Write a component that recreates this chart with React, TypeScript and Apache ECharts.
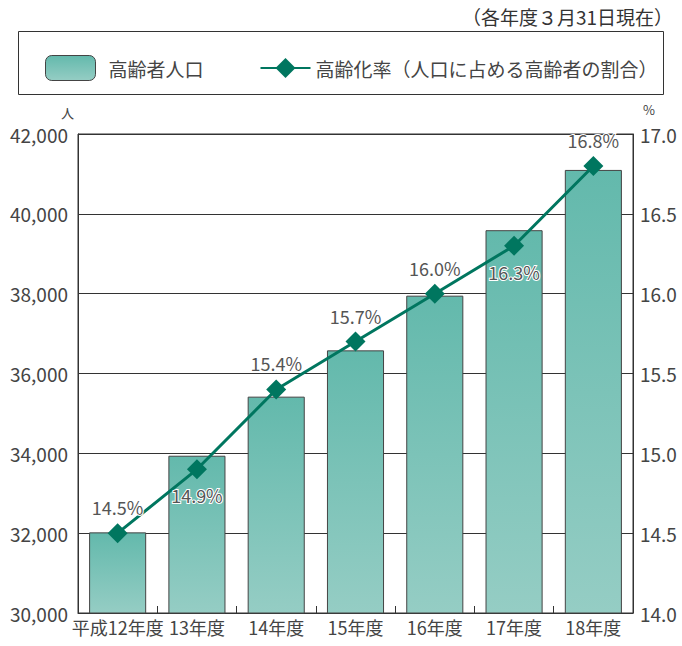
import React, { useEffect, useRef } from "react";
import * as echarts from "echarts";

const categories = ["平成12年度", "13年度", "14年度", "15年度", "16年度", "17年度", "18年度"];
const population = [32020, 33940, 35420, 36580, 37950, 39590, 41100];
const agingRate = [14.5, 14.9, 15.4, 15.7, 16.0, 16.3, 16.8];
const labelBelow = [false, true, false, false, false, true, false];
const leftTicks = { min: 30000, max: 42000, interval: 2000 };
const rightTicks = { min: 14, max: 17, interval: 0.5 };

const FONT = "'Noto Sans CJK JP', 'Noto Sans', sans-serif";

export default function App() {
  const ref = useRef<HTMLDivElement>(null);
  useEffect(() => {
    if (!ref.current) return;
    const chart = echarts.init(ref.current, undefined, { renderer: "svg" });
    const barColor = new echarts.graphic.LinearGradient(0, 0, 0, 1, [
      { offset: 0, color: "#63b9ac" },
      { offset: 1, color: "#95cdc4" },
    ]);
    chart.setOption({
      animation: false,
      textStyle: { fontFamily: FONT },
      title: {
        text: "（各年度３月31日現在）",
        right: 4,
        top: 2,
        textStyle: { fontSize: 19, fontWeight: "normal", color: "#333", fontFamily: FONT },
      },
      graphic: [
        {
          type: "rect",
          shape: { x: 18.5, y: 31.5, width: 645, height: 63 },
          style: { fill: "none", stroke: "#333", lineWidth: 1 },
        },
      ],
      legend: {
        left: 40,
        top: 50,
        itemWidth: 50,
        itemHeight: 25,
        itemGap: 56,
        textStyle: { fontSize: 19, color: "#444", fontFamily: FONT },
        data: [
          {
            name: "高齢者人口",
            itemStyle: { borderColor: "#444", borderWidth: 1 },
            textStyle: { padding: [0, 0, 0, 8] },
          },
          { name: "高齢化率（人口に占める高齢者の割合）" },
        ],
      },
      grid: { left: 78, right: 49, top: 134, bottom: 33, show: true, borderColor: "#333", borderWidth: 1 },
      xAxis: {
        type: "category",
        data: categories,
        axisLine: { lineStyle: { color: "#333" } },
        axisTick: { show: true, inside: true, length: 7, lineStyle: { color: "#333" } },
        axisLabel: { fontSize: 18, color: "#444", margin: 5, interval: 0 },
      },
      yAxis: [
        {
          type: "value",
          min: leftTicks.min,
          max: leftTicks.max,
          interval: leftTicks.interval,
          name: "人",
          nameGap: 15,
          nameTextStyle: { fontSize: 13, lineHeight: 13, color: "#444", align: "right", padding: [0, 4, 0, 0] },
          axisLine: { show: true, lineStyle: { color: "#333" } },
          axisTick: { show: false },
          axisLabel: {
            fontSize: 19,
            color: "#444",
            margin: 10,
            formatter: (v: number) => v.toLocaleString("en-US"),
          },
          splitLine: { lineStyle: { color: "#333", width: 1 } },
        },
        {
          type: "value",
          min: rightTicks.min,
          max: rightTicks.max,
          interval: rightTicks.interval,
          name: "%",
          nameGap: 18,
          nameTextStyle: { fontSize: 13, lineHeight: 13, color: "#444", align: "left", padding: [0, 0, 0, 10] },
          axisLine: { show: true, lineStyle: { color: "#333" } },
          axisTick: { show: false },
          axisLabel: { fontSize: 19, color: "#444", margin: 7, formatter: (v: number) => v.toFixed(1) },
          splitLine: { show: false },
        },
      ],
      series: [
        {
          name: "高齢者人口",
          type: "bar",
          data: population,
          barWidth: "72%",
          itemStyle: { color: barColor, borderColor: "#444", borderWidth: 1 },
        },
        {
          name: "高齢化率（人口に占める高齢者の割合）",
          type: "line",
          yAxisIndex: 1,
          symbol: "diamond",
          symbolSize: 20,
          lineStyle: { color: "#00765f", width: 3 },
          itemStyle: { color: "#00765f" },
          data: agingRate.map((v, i) => ({
            value: v,
            label: { position: labelBelow[i] ? "bottom" : "top" },
          })),
          label: {
            show: true,
            distance: 7,
            fontSize: 18,
            color: "#555",
            textBorderColor: "#fff",
            textBorderWidth: 2,
            formatter: (p: any) => p.value.toFixed(1) + "%",
          },
          z: 5,
        },
      ],
    });
    return () => chart.dispose();
  }, []);
  return (
    <div
      ref={ref}
      style={{ position: "fixed", left: 0, top: 0, width: 682, height: 646, background: "#fff" }}
    />
  );
}
